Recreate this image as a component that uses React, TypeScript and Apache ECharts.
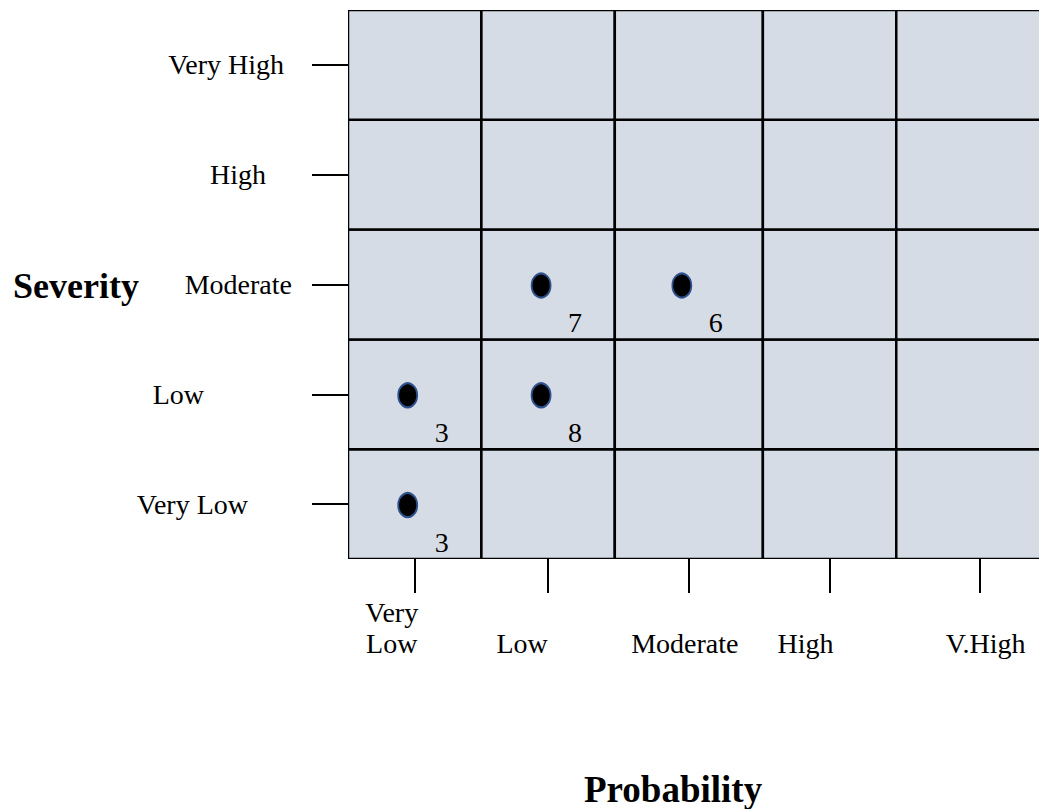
import React, { useEffect, useRef } from "react";
import * as echarts from "echarts";

// Category names
const probabilityLevels = ["Very\nLow", "Low", "Moderate", "High", "V.High"];
const severityLevels = ["Very Low", "Low", "Moderate", "High", "Very High"];

// Band boundaries on each scale (probability bands are not all equally wide)
const probabilityBandEdges = [0, 1, 2, 3.11, 4.11, 5.36];
const severityBandEdges = [0, 1, 2, 3, 4, 5];

// Observed risks: band index on each scale and the count written beside the dot
const riskProbability = [0, 1, 0, 1, 2];
const riskSeverity = [1, 1, 0, 2, 2];
const riskCount = [3, 8, 3, 7, 6];

const FONT = "'Liberation Serif', 'Times New Roman', serif";

const mid = (edges: number[], i: number) => (edges[i] + edges[i + 1]) / 2;

export default function App() {
  const ref = useRef<HTMLDivElement>(null);

  useEffect(() => {
    if (!ref.current) return;
    const chart = echarts.init(ref.current, undefined, { renderer: "svg" });

    // label layout tweaks (horizontal shift of each probability label, extra right gap of each severity label)
    const probShift = [-23, -26, -4, -24, 6];
    const sevPad = [44, 88, 0, 26, 8];

    const probMids = probabilityLevels.map((_, i) => mid(probabilityBandEdges, i));
    const sevMids = severityLevels.map((_, i) => mid(severityBandEdges, i));

    const nearest = (arr: number[], v: number) => {
      let best = 0;
      arr.forEach((a, i) => {
        if (Math.abs(a - v) < Math.abs(arr[best] - v)) best = i;
      });
      return best;
    };

    const baseText = { fontFamily: FONT, fontSize: 28, lineHeight: 31, color: "#000" };

    const xRich: Record<string, any> = {};
    probabilityLevels.forEach((_, i) => {
      const s = probShift[i];
      xRich["p" + i] = {
        ...baseText,
        padding: s < 0 ? [0, -2 * s, 0, 0] : [0, 0, 0, 2 * s],
      };
    });
    const yRich: Record<string, any> = {};
    severityLevels.forEach((_, i) => {
      yRich["s" + i] = { ...baseText, padding: [0, sevPad[i], 0, 0] };
    });

    const cells: number[][] = [];
    for (let i = 0; i < probabilityLevels.length; i++) {
      for (let j = 0; j < severityLevels.length; j++) {
        cells.push([
          probabilityBandEdges[i],
          probabilityBandEdges[i + 1],
          severityBandEdges[j],
          severityBandEdges[j + 1],
        ]);
      }
    }

    const points = riskProbability.map((p, k) => [
      probMids[p],
      sevMids[riskSeverity[k]],
      riskCount[k],
    ]);

    chart.setOption({
      animation: false,
      backgroundColor: "#fff",
      title: [
        {
          text: "Severity",
          left: 13,
          top: 266,
          padding: 0,
          textStyle: { fontFamily: FONT, fontSize: 36, fontWeight: "bold", lineHeight: 40, color: "#000" },
        },
        {
          text: "Probability",
          left: 584,
          top: 768,
          padding: 0,
          textStyle: { fontFamily: FONT, fontSize: 37, fontWeight: "bold", lineHeight: 42, color: "#000" },
        },
      ],
      grid: { left: 348, right: 0, top: 10, bottom: 250, containLabel: false },
      xAxis: {
        type: "value",
        min: 0,
        max: 5.18,
        splitLine: { show: false },
        axisLine: { show: false },
        axisTick: {
          show: true,
          customValues: probMids,
          length: 34,
          lineStyle: { color: "#000", width: 2 },
        },
        axisLabel: {
          show: true,
          customValues: probMids,
          margin: 100,
          verticalAlign: "bottom",
          align: "center",
          hideOverlap: false,
          ...baseText,
          formatter: (v: number) => {
            const i = nearest(probMids, v);
            return probabilityLevels[i]
              .split("\n")
              .map((t) => `{p${i}|${t}}`)
              .join("\n");
          },
          rich: xRich,
        },
      },
      yAxis: {
        type: "value",
        min: 0,
        max: 5,
        splitLine: { show: false },
        axisLine: { show: false },
        axisTick: {
          show: true,
          customValues: sevMids,
          length: 36,
          lineStyle: { color: "#000", width: 2 },
        },
        axisLabel: {
          show: true,
          customValues: sevMids,
          margin: 56,
          align: "right",
          verticalAlign: "middle",
          hideOverlap: false,
          ...baseText,
          formatter: (v: number) => {
            const i = nearest(sevMids, v);
            return `{s${i}|${severityLevels[i]}}`;
          },
          rich: yRich,
        },
      },
      series: [
        {
          type: "custom",
          clip: true,
          z: 1,
          data: cells,
          renderItem: (_params: any, api: any) => {
            const p0 = api.coord([api.value(0), api.value(3)]);
            const p1 = api.coord([api.value(1), api.value(2)]);
            return {
              type: "rect",
              shape: { x: p0[0], y: p0[1], width: p1[0] - p0[0], height: p1[1] - p0[1] },
              style: { fill: "#d6dce5", stroke: "#000", lineWidth: 2.5 },
            };
          },
        },
        {
          type: "scatter",
          z: 5,
          data: points,
          symbol: "circle",
          symbolSize: [19, 24],
          symbolOffset: [-7, 1],
          itemStyle: { color: "#000", borderColor: "#2f528f", borderWidth: 2, opacity: 1 },
          label: {
            show: true,
            position: "inside",
            offset: [34, 37],
            formatter: (p: any) => String(p.value[2]),
            fontFamily: FONT,
            fontSize: 28,
            color: "#000",
          },
          emphasis: { disabled: true },
        },
      ],
    });

    return () => chart.dispose();
  }, []);

  return (
    <div
      ref={ref}
      style={{ position: "absolute", left: 0, top: 0, width: 1039, height: 809 }}
    />
  );
}
